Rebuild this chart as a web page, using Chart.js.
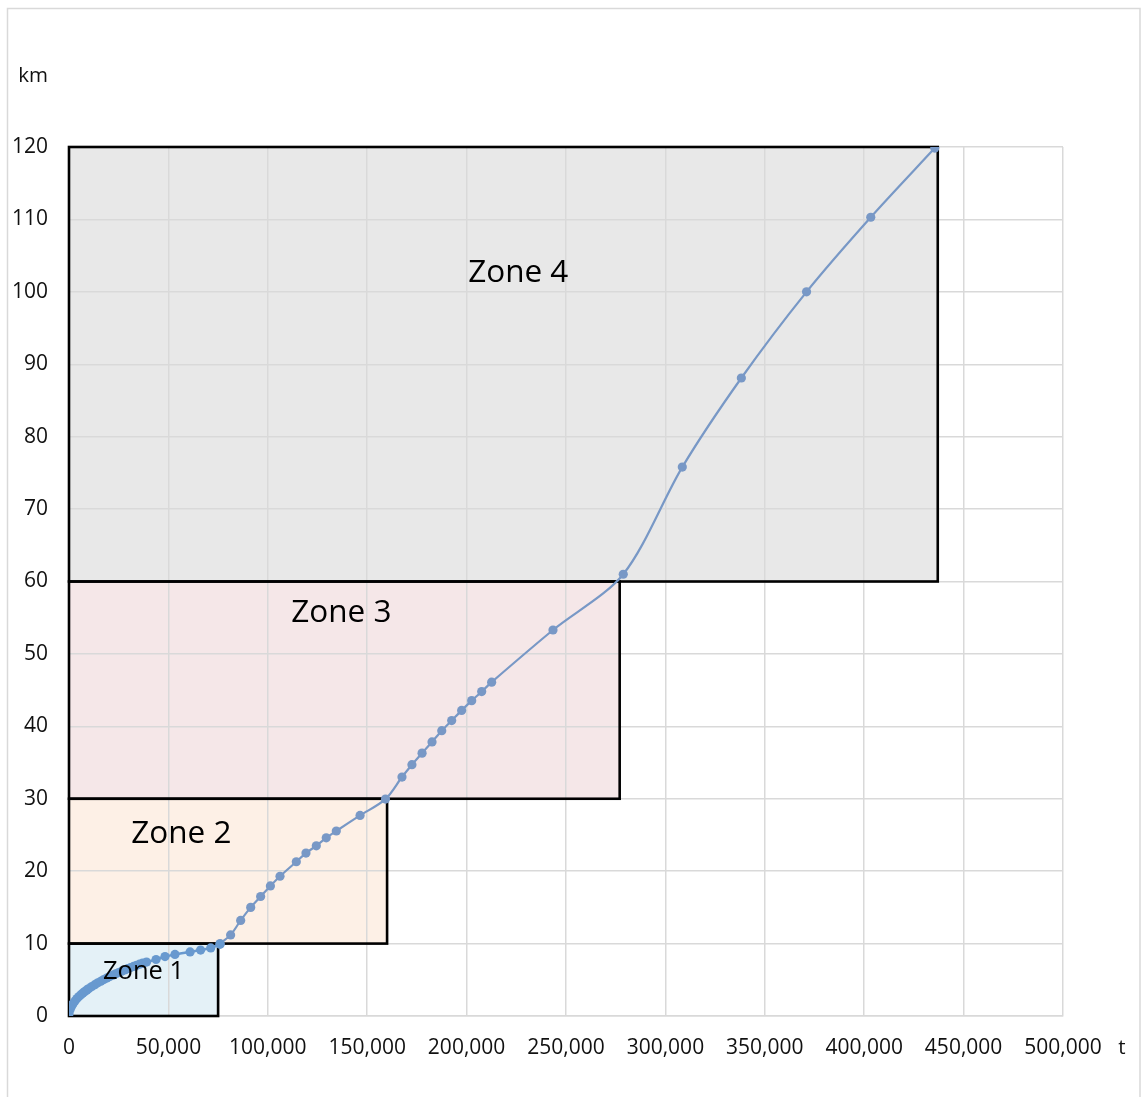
<!DOCTYPE html>
<html>
<head>
<meta charset="utf-8">
<style>
  html, body { margin: 0; padding: 0; background: #fff; }
  #wrap { position: relative; width: 1141px; height: 1097px; }
  canvas { display: block; }
</style>
<script src="https://cdn.jsdelivr.net/npm/chart.js@4.4.1/dist/chart.umd.min.js"></script>
</head>
<body>
<div id="wrap"><canvas id="c" width="1141" height="1097"></canvas></div>
<script>
// Cumulative distance (km) against cumulative tonnage (t)

// Early, densely sampled section
const zone1Tonnes = [0, 500, 1000, 1500, 2000, 3000, 4000, 5000, 6000, 7000, 8000, 9000, 10000,
  11500, 13000, 14500, 16000, 17500, 19000, 20500, 22000, 23500, 25000, 26500, 28000, 29500,
  31000, 32500, 34000, 35500, 37000, 39000, 43800, 48300, 53300, 60900, 66200, 71300, 76000];
const zone1Km = [0.3, 0.85, 1.2, 1.47, 1.7, 2.08, 2.4, 2.69, 2.94, 3.18, 3.4, 3.6, 3.8,
  4.07, 4.33, 4.58, 4.8, 5.03, 5.24, 5.44, 5.64, 5.83, 6.0, 6.19, 6.36, 6.53,
  6.69, 6.85, 7.0, 7.16, 7.3, 7.45, 7.8, 8.2, 8.5, 8.85, 9.1, 9.4, 9.9];

// Later section
const mainTonnes = [76000, 81300, 86350, 91400, 96400, 101300, 106140, 114340, 119200, 124400,
  129400, 134460, 146400, 159200, 167500, 172500, 177600, 182600, 187500, 192500, 197500,
  202560, 207600, 212600, 243460, 278800, 308500, 338200, 371000, 403300, 435500];
const mainKm = [10.0, 11.2, 13.2, 15.0, 16.5, 17.96, 19.3, 21.3, 22.5, 23.5,
  24.6, 25.55, 27.7, 29.95, 33.0, 34.7, 36.3, 37.85, 39.4, 40.8, 42.2,
  43.55, 44.8, 46.1, 53.3, 61.0, 75.8, 88.1, 100.0, 110.3, 119.85];

// Zones
const zoneNames = ['Zone 1', 'Zone 2', 'Zone 3', 'Zone 4'];
const zoneTonnesMax = [75000, 160000, 277000, 437000];
const zoneKmMin = [0, 10, 30, 60];
const zoneKmMax = [10, 30, 60, 120];
const zoneLabelTonnes = [37500, 56500, 137000, 226000];
const zoneLabelKm = [6.1, 25.1, 55.6, 102.6];

// Axis ticks
const xTicks = [0, 50000, 100000, 150000, 200000, 250000, 300000, 350000, 400000, 450000, 500000];
const yTicks = [0, 10, 20, 30, 40, 50, 60, 70, 80, 90, 100, 110, 120];
const xUnit = 't';
const yUnit = 'km';

const FONT = "'Open Sans', 'Noto Sans', sans-serif";
const zoneFills = ['#e4f1f7', '#fdf0e6', '#f5e7e8', '#e8e8e8'];
const zoneFontSizes = [25.5, 31.5, 31.5, 31.5];

function toPoints(xs, ys) { return xs.map((x, i) => ({ x: x, y: ys[i] })); }

const zonesPlugin = {
  id: 'zones',
  beforeDraw(chart) {
    const { ctx, scales: { x, y } } = chart;
    ctx.save();
    for (let i = zoneNames.length - 1; i >= 0; i--) {
      const x0 = x.getPixelForValue(0), x1 = x.getPixelForValue(zoneTonnesMax[i]);
      const y0 = y.getPixelForValue(zoneKmMax[i]), y1 = y.getPixelForValue(zoneKmMin[i]);
      ctx.fillStyle = zoneFills[i];
      ctx.fillRect(x0, y0, x1 - x0, y1 - y0);
    }
    ctx.restore();
  },
  beforeDatasetsDraw(chart) {
    const { ctx, scales: { x, y } } = chart;
    ctx.save();
    ctx.strokeStyle = '#000';
    ctx.lineWidth = 2.6;
    for (let i = zoneNames.length - 1; i >= 0; i--) {
      const x0 = x.getPixelForValue(0), x1 = x.getPixelForValue(zoneTonnesMax[i]);
      const y0 = y.getPixelForValue(zoneKmMax[i]), y1 = y.getPixelForValue(zoneKmMin[i]);
      ctx.strokeRect(x0, y0, x1 - x0, y1 - y0);
    }
    ctx.restore();
  },
  afterDatasetsDraw(chart) {
    const { ctx, scales: { x, y } } = chart;
    ctx.save();
    ctx.fillStyle = '#000';
    ctx.textAlign = 'center';
    ctx.textBaseline = 'middle';
    zoneNames.forEach((name, i) => {
      ctx.font = zoneFontSizes[i] + 'px ' + FONT;
      ctx.fillText(name, x.getPixelForValue(zoneLabelTonnes[i]), y.getPixelForValue(zoneLabelKm[i]));
    });
    // axis unit labels
    ctx.font = '20.5px ' + FONT;
    ctx.fillStyle = '#111';
    ctx.fillText(yUnit, 33, 76);
    ctx.fillText(xUnit, 1122, 1048);
    ctx.restore();
  },
  afterDraw(chart) {
    const { ctx } = chart;
    ctx.save();
    ctx.strokeStyle = '#d9d9d9';
    ctx.lineWidth = 1.5;
    ctx.strokeRect(7.5, 8.5, 1132.5, 1100);
    ctx.restore();
  }
};

new Chart(document.getElementById('c'), {
  type: 'scatter',
  data: {
    datasets: [
      {
        label: 'zone1',
        data: toPoints(zone1Tonnes, zone1Km),
        showLine: true,
        borderColor: '#6899cf',
        backgroundColor: '#6899cf',
        borderWidth: 2.5,
        pointRadius: 4.6,
        pointBorderWidth: 0,
        tension: 0.3
      },
      {
        label: 'main',
        data: toPoints(mainTonnes, mainKm),
        showLine: true,
        borderColor: '#7898c6',
        backgroundColor: '#7898c6',
        borderWidth: 2.2,
        pointRadius: 4.6,
        pointBorderWidth: 0,
        tension: 0.3
      }
    ]
  },
  options: {
    responsive: false,
    animation: false,
    devicePixelRatio: 1,
    layout: { padding: { top: 147, right: 78, left: 0, bottom: 0 } },
    plugins: { legend: { display: false }, tooltip: { enabled: false } },
    scales: {
      x: {
        type: 'linear',
        min: 0,
        max: 500000,
        afterBuildTicks(axis) { axis.ticks = xTicks.map(v => ({ value: v })); },
        afterFit(axis) { axis.height = 81; },
        grid: { color: '#d9d9d9', lineWidth: 1.5, drawTicks: false },
        border: { color: '#d9d9d9', width: 1.5 },
        ticks: {
          padding: 19,
          maxRotation: 0,
          color: '#111',
          font: { family: FONT, size: 21 },
          callback: v => v.toLocaleString('en-US')
        }
      },
      y: {
        type: 'linear',
        min: 0,
        max: 120,
        afterBuildTicks(axis) { axis.ticks = yTicks.map(v => ({ value: v })); },
        afterFit(axis) { axis.width = 69; },
        grid: { color: '#d9d9d9', lineWidth: 1.5, drawTicks: false },
        border: { display: false },
        ticks: {
          padding: 21,
          color: '#111',
          font: { family: FONT, size: 21 }
        }
      }
    }
  },
  plugins: [zonesPlugin]
});
</script>
</body>
</html>
